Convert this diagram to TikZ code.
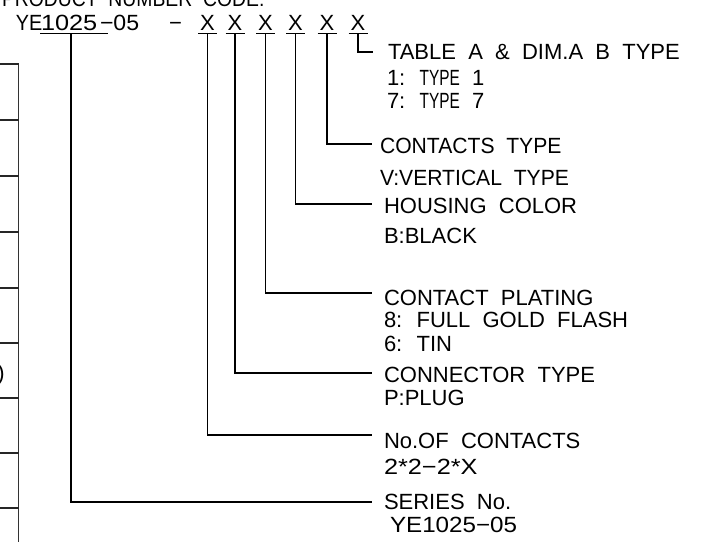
\documentclass[tikz,border=0pt]{standalone}
\usepackage{fontspec}
\setmainfont{Liberation Sans}[WordSpace=2.0]
\begin{document}
\begin{tikzpicture}[x=1pt,y=-1pt,
  txt/.style={anchor=base west,inner sep=0pt,outer sep=0pt,font=\fontsize{22}{22}\selectfont},
  xl/.style={anchor=base,inner sep=0pt,outer sep=0pt,font=\fontsize{22}{22}\selectfont},
  lead/.style={line width=1.2pt,black},
  tbl/.style={line width=1.5pt,black!80}]
\useasboundingbox (0,0) rectangle (709,541);

% left table fragment
\draw[tbl] (18.5,64) -- (18.5,545);
\foreach \yy in {64,120,176,232,288,343,398,453,508}
  \draw[line width=1.1pt,black!85] (0,\yy) -- (18.5,\yy);
\node[anchor=base east,inner sep=0pt,font=\fontsize{22}{22}\selectfont] (paren) at (5,380) {)};

% header
\node[txt] (title) at (2,6) {\scalebox{0.88}[1]{PRODUCT\ NUMBER\ CODE:}};
\node[txt] (ye) at (16,30) {\scalebox{0.9}[1]{YE}};
\node[txt] (num) at (41,30) {\scalebox{1.15}[1]{1025}};
\node[txt] (suf) at (100,30) {\scalebox{1.05}[1]{−05}};
\node[txt] (dash) at (169,30) {−};
\node[xl] (x1) at (207.5,30) {X};
\node[xl] (x2) at (235,30) {X};
\node[xl] (x3) at (265.5,30) {X};
\node[xl] (x4) at (295.5,30) {X};
\node[xl] (x5) at (327,30) {X};
\node[xl] (x6) at (358,30) {X};

% underlines
\draw[lead] (40,33.5) -- (108,33.5);
\foreach \n in {1,...,6}
  \draw[lead] ([xshift=-9.5pt]x\n.base |- 0,33.5) -- ([xshift=9.5pt]x\n.base |- 0,33.5);

% connector end points
\coordinate (u0) at (71,33.5);
\coordinate (e0) at (372,502);
\coordinate (e1) at (372,435);
\coordinate (e2) at (372,373);
\coordinate (e3) at (372,293);
\coordinate (e4) at (372,204);
\coordinate (e5) at (372,144);
\coordinate (e6) at (373,52);

\draw[lead] (u0) |- (e0);
\draw[lead] (x1.base |- 0,33.5) |- (e1);
\draw[lead] (x2.base |- 0,33.5) |- (e2);
\draw[lead] (x3.base |- 0,33.5) |- (e3);
\draw[lead] (x4.base |- 0,33.5) |- (e4);
\draw[lead] (x5.base |- 0,33.5) |- (e5);
\draw[lead] (x6.base |- 0,33.5) |- (e6);

% labels
\node[txt] (l6a) at (388,59) {TABLE A \& DIM.A B TYPE};
\node[txt] (l6b) at (387,85) {1: \scalebox{0.7}[1]{TYPE} 1};
\node[txt] (l6c) at (387,108) {7: \scalebox{0.7}[1]{TYPE} 7};
\node[txt] (l5a) at (380,153) {\scalebox{0.96}[1]{CONTACTS TYPE}};
\node[txt] (l5b) at (380,185) {\scalebox{0.96}[1]{V:VERTICAL TYPE}};
\node[txt] (l4a) at (384,213) {HOUSING COLOR};
\node[txt] (l4b) at (384,243) {B:BLACK};
\node[txt] (l3a) at (384,305) {CONTACT PLATING};
\node[txt] (l3b) at (384,327) {8: FULL GOLD FLASH};
\node[txt] (l3c) at (384,351) {6: TIN};
\node[txt] (l2a) at (384,382) {CONNECTOR TYPE};
\node[txt] (l2b) at (384,405) {P:PLUG};
\node[txt] (l1a) at (384,448) {No.OF CONTACTS};
\node[txt] (l1b) at (384,474) {\scalebox{1.15}[1]{2*2−2*X}};
\node[txt] (l0a) at (384,509) {SERIES No.};
\node[txt] (l0b) at (390,532) {\scalebox{1.1}[1]{YE1025−05}};
\end{tikzpicture}
\end{document}
